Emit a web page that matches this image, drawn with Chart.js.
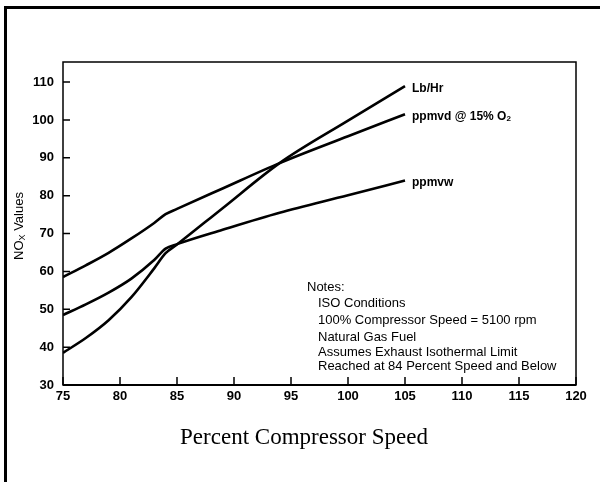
<!DOCTYPE html>
<html>
<head>
<meta charset="utf-8">
<script src="https://cdn.jsdelivr.net/npm/chart.js@4"></script>
<style>
  html, body { margin: 0; padding: 0; background: #fff; }
  canvas { display: block; }
</style>
</head>
<body>
<canvas id="nox" width="600" height="482"></canvas>
<script>
// values
const speed = [75, 77, 79, 81, 83, 84, 85, 89, 94, 100, 105];
const lbHr  = [38.5, 42.4, 47.1, 53.2, 60.8, 64.8, 67.1, 76.7, 88.6, 99.8, 108.9];
const ppmvd = [58.5, 61.6, 64.9, 68.7, 72.8, 75.1, 76.5, 81.9, 88.6, 95.7, 101.5];
const ppmvw = [48.5, 51.3, 54.4, 58.1, 63.0, 66.0, 67.2, 71.0, 75.5, 80.1, 84.0];
const seriesNames = ['Lb/Hr', 'ppmvd @ 15% O', 'ppmvw'];
const notes = ['ISO Conditions', '100% Compressor Speed = 5100 rpm', 'Natural Gas Fuel',
  'Assumes Exhaust Isothermal Limit', 'Reached at 84 Percent Speed and Below'];

const pts = ys => speed.map((s, i) => ({ x: s, y: ys[i] }));
const SANS = '"Liberation Sans", Arial, sans-serif';

const ink = {
  id: 'ink',
  afterDraw(chart) {
    const { ctx, chartArea: a, scales: { x, y } } = chart;
    ctx.save();
    ctx.strokeStyle = '#000'; ctx.fillStyle = '#000';

    // page frame (top + left only, like the scan)
    ctx.lineWidth = 3;
    ctx.beginPath(); ctx.moveTo(5.5, 482); ctx.lineTo(5.5, 7.5); ctx.lineTo(600, 7.5); ctx.stroke();

    // plot box
    ctx.lineWidth = 1.5;
    ctx.strokeRect(a.left, a.top, a.right - a.left, a.bottom - a.top);
    ctx.lineWidth = 2;
    ctx.beginPath(); ctx.moveTo(a.left, a.bottom); ctx.lineTo(a.right, a.bottom); ctx.stroke();

    // inward tick marks
    ctx.lineWidth = 1.5;
    ctx.beginPath();
    x.ticks.forEach(t => { const p = x.getPixelForValue(t.value); ctx.moveTo(p, a.bottom); ctx.lineTo(p, a.bottom - 8); });
    y.ticks.forEach(t => { const p = y.getPixelForValue(t.value); ctx.moveTo(a.left, p); ctx.lineTo(a.left + 7, p); });
    ctx.stroke();

    // series labels at the line ends
    ctx.textBaseline = 'middle'; ctx.textAlign = 'left';
    chart.data.datasets.forEach((ds, i) => {
      const last = ds.data[ds.data.length - 1];
      const px = x.getPixelForValue(last.x) + 7, py = y.getPixelForValue(last.y) + 2;
      ctx.font = 'bold 12px ' + SANS;
      ctx.fillText(seriesNames[i], px, py);
      if (i === 1) {
        const w = ctx.measureText(seriesNames[i]).width;
        ctx.font = 'bold 8px ' + SANS;
        ctx.fillText('2', px + w, py + 3);
      }
    });

    // notes block
    ctx.font = '13px ' + SANS;
    ctx.fillText('Notes:', 307, 287);
    const ny = [303, 320, 337, 352, 366];
    notes.forEach((n, i) => ctx.fillText(n, 318, ny[i]));

    // x title
    ctx.font = '23px "Liberation Serif", "Times New Roman", serif';
    ctx.textAlign = 'center';
    ctx.fillText('Percent Compressor Speed', 304, 438);

    // y title, rotated, with subscript X
    ctx.translate(19, 226);
    ctx.rotate(-Math.PI / 2);
    const a1 = 'NO', a3 = ' Values';
    ctx.font = '13px ' + SANS; const w1 = ctx.measureText(a1).width;
    ctx.font = '9px ' + SANS; const w2 = ctx.measureText('X').width;
    ctx.font = '13px ' + SANS; const w3 = ctx.measureText(a3).width;
    const sx = -(w1 + w2 + w3) / 2;
    ctx.textAlign = 'left';
    ctx.fillText(a1, sx, 0);
    ctx.font = '9px ' + SANS; ctx.fillText('X', sx + w1, 4);
    ctx.font = '13px ' + SANS; ctx.fillText(a3, sx + w1 + w2, 0);
    ctx.restore();
  }
};

const line = ys => ({
  data: pts(ys), borderColor: '#000', borderWidth: 2.6, pointRadius: 0,
  cubicInterpolationMode: 'monotone', fill: false
});

new Chart(document.getElementById('nox'), {
  type: 'line',
  data: { datasets: [line(lbHr), line(ppmvd), line(ppmvw)] },
  options: {
    responsive: false, animation: false, devicePixelRatio: 1,
    layout: { padding: { top: 62, right: 24, left: 0, bottom: 0 } },
    plugins: { legend: { display: false }, tooltip: { enabled: false } },
    scales: {
      x: {
        type: 'linear', min: 75, max: 120,
        afterFit: s => { s.height = 97; },
        grid: { display: false, drawTicks: false }, border: { display: false },
        ticks: { stepSize: 5, padding: 4, color: '#000', maxRotation: 0, font: { family: SANS, size: 13, weight: 'bold' } }
      },
      y: {
        min: 30, max: 115.3,
        afterFit: s => { s.width = 63; },
        grid: { display: false, drawTicks: false }, border: { display: false },
        ticks: { stepSize: 10, includeBounds: false, padding: 9, color: '#000', font: { family: SANS, size: 13, weight: 'bold' } }
      }
    }
  },
  plugins: [ink]
});
</script>
</body>
</html>
